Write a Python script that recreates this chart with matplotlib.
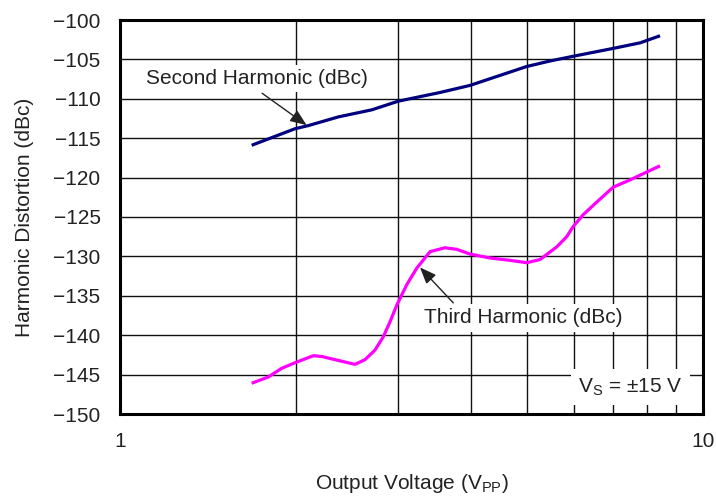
import matplotlib
matplotlib.use("Agg")
import matplotlib.pyplot as plt
from matplotlib.ticker import FixedLocator, NullFormatter, FixedFormatter

plt.rcParams['font.family'] = ['Liberation Sans', 'DejaVu Sans']

# Data
x_second = [1.682, 1.996, 2.104, 2.368, 2.703, 3.002, 3.539, 3.984, 4.985, 5.465, 5.991, 7.018, 7.80, 8.439]
y_second = [-115.9, -113.8, -113.4, -112.3, -111.4, -110.3, -109.2, -108.3, -105.9, -105.2, -104.6,
            -103.6, -102.9, -102.0]

x_third = [1.682, 1.797, 1.894, 1.996, 2.146, 2.218, 2.368, 2.530, 2.632, 2.737, 2.829, 2.905, 2.983,
           3.103, 3.228, 3.402, 3.610, 3.780, 3.984, 4.311, 4.667, 4.985, 5.253, 5.611, 5.837, 5.991,
           6.232, 6.574, 7.018, 7.494, 7.901, 8.439]
y_third = [-146.1, -145.3, -144.2, -143.5, -142.6, -142.7, -143.2, -143.7, -143.1, -141.9, -140.2,
           -138.3, -136.2, -133.6, -131.5, -129.4, -128.9, -129.1, -129.7, -130.2, -130.5, -130.8,
           -130.4, -128.8, -127.5, -126.2, -124.7, -123.1, -121.2, -120.3, -119.5, -118.5]

y_ticks = [-100, -105, -110, -115, -120, -125, -130, -135, -140, -145, -150]
x_major = [1, 10]
x_minor = [2, 3, 4, 5, 6, 7, 8, 9]

FS = 15
TXT = '#222222'

fig = plt.figure(figsize=(7.16, 4.97), dpi=100)
ax = fig.add_axes([120/716, 83/497, 583/716, 394/497])

ax.plot(x_second, y_second, color='#00007f', lw=2.3, solid_capstyle='butt', zorder=3)
ax.plot(x_third, y_third, color='#ff00ff', lw=2.3, solid_capstyle='butt', zorder=3)

ax.set_xscale('log')
ax.set_xlim(1, 10)
ax.set_ylim(-150, -100)
ax.xaxis.set_major_locator(FixedLocator(x_major))
ax.xaxis.set_major_formatter(FixedFormatter([str(v) for v in x_major]))
ax.xaxis.set_minor_locator(FixedLocator(x_minor))
ax.xaxis.set_minor_formatter(NullFormatter())
ax.set_yticks(y_ticks)
ax.set_yticklabels([f"\u2212{abs(v)}" for v in y_ticks])

ax.grid(True, which='both', color='#111111', lw=1.0)
ax.set_axisbelow(True)
ax.tick_params(which='both', length=0, labelsize=FS, colors=TXT)
ax.tick_params(axis='x', pad=13)
ax.tick_params(axis='y', pad=14)
for s in ax.spines.values():
    s.set_linewidth(2.2)
    s.set_color('black')

ax.set_xlabel("Output Voltage (V$_{\\mathregular{PP}}$)", fontsize=FS, color=TXT, labelpad=15)
ax.set_ylabel("Harmonic Distortion (dBc)", fontsize=FS, color=TXT, labelpad=14)

bbox = dict(boxstyle='square,pad=0.2', fc='white', ec='none')
arrow = dict(arrowstyle='-|>,head_length=1.0,head_width=0.4', color=TXT, lw=1.0,
             shrinkA=0, shrinkB=0, mutation_scale=10)

ax.text(1.718, -107.4, "Second Harmonic (dBc)", ha='center', va='center', fontsize=FS,
        color=TXT, bbox=bbox, zorder=4)
ax.annotate("", xy=(2.09, -113.35), xytext=(1.753, -109.3), arrowprops=arrow, zorder=4)

ax.text(4.91, -137.8, "Third Harmonic (dBc)", ha='center', va='center', fontsize=FS,
        color=TXT, bbox=bbox, zorder=4)
ax.annotate("", xy=(3.27, -131.4), xytext=(3.73, -135.9), arrowprops=arrow, zorder=4)

ax.text(0.875, 0.068, "V$_{\\mathregular{S}}$ = \u00b115 V", transform=ax.transAxes, ha='center',
        va='center', fontsize=FS, color=TXT,
        bbox=dict(boxstyle='square,pad=0.35', fc='white', ec='none'), zorder=4)

fig.savefig("out.png", dpi=100)
